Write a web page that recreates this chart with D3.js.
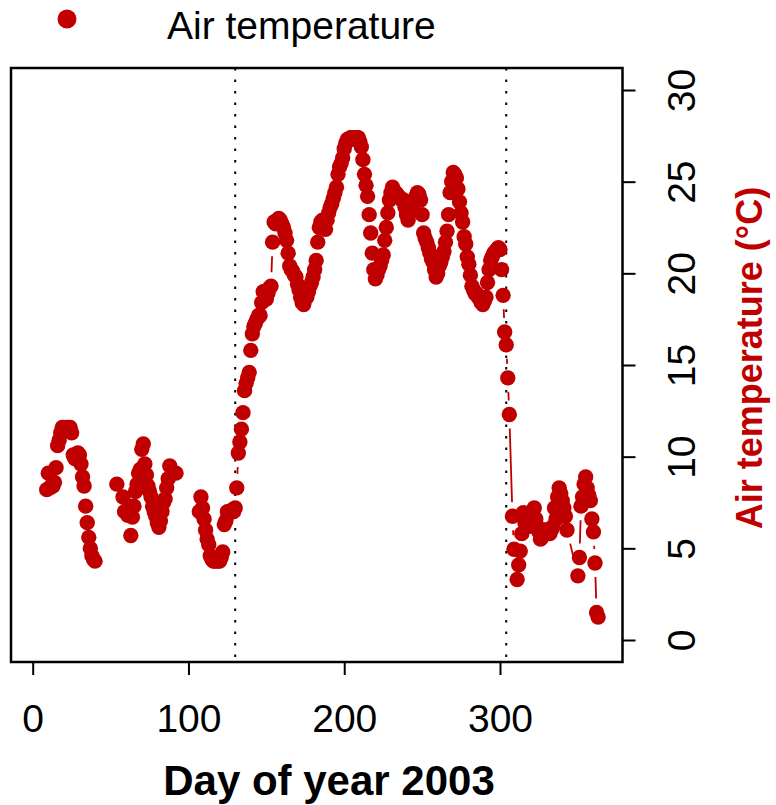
<!DOCTYPE html>
<html>
<head>
<meta charset="utf-8">
<script src="https://cdn.jsdelivr.net/npm/d3@7"></script>
<style>
  body { margin: 0; background: #fff; }
  svg { display: block; font-family: 'Liberation Sans', Arial, sans-serif; }
</style>
</head>
<body>
<div id="chart"></div>
<script>
// daily air temperature, null = no data (breaks the line)
const dayOfYear = [
  9, 10, 11, 12, 13, 14, 15, 16, 17, 18, 19, 20, 21, 22, 23, 24, 25, 26, 27, 28,
  29, 30, 31, 32, 33, 34, 35, 36, 37, 38, 39, 40, 41,
  54, 58, 59, 61, 62, 63, 64, 65, 66, 67, 68, 69, 70, 71, 72, 73, 74, 75, 76, 77,
  78, 79, 80, 81, 82, 83, 84, 85, 86, 87, 88, 92, 93,
  107, 108, 109, 110, 111, 112, 113, 114, 115, 116,
  117, 118, 119, 120, 121, 122, 123, 124, 125, 126,
  127, 128, 129, 130, 131, 132, 133, 134, 135, 136,
  137, 138, 139, 140, 141, 142, 143, 144, 145, 146,
  147, 148, 149, 150, 151, 152, 153, 154, 155, 156,
  157, 158, 159, 160, 161, 162, 163, 164, 165, 166,
  167, 168, 169, 170, 171, 172, 173, 174, 175, 176,
  177, 178, 179, 180, 181, 182, 183, 184, 185, 186,
  187, 188, 189, 190, 191, 192, 193, 194, 195, 196,
  197, 198, 199, 200, 201, 202, 203, 204, 205, 206,
  207, 208, 209, 210, 211, 212, 213, 214, 215, 216,
  217, 218, 219, 220, 221, 222, 223, 224, 225, 226,
  227, 228, 229, 230, 231, 232, 233, 234, 235, 236,
  237, 238, 239, 240, 241, 242, 243, 244, 245, 246,
  247, 248, 249, 250, 251, 252, 253, 254, 255, 256,
  257, 258, 259, 260, 261, 262, 263, 264, 265, 266,
  267, 268, 269, 270, 271, 272, 273, 274, 275, 276,
  277, 278, 279, 280, 281, 282, 283, 284, 285, 286,
  287, 288, 289, 290, 291, 292, 293, 294, 295, 296,
  297, 298, 299, 300, 301, 302, 303, 304, 305, 306,
  308, 309, 311, 312, 313, 314, 315, 316, 317, 318, 319, 320, 321, 322, 323, 324,
  325, 326, 327, 328, 329, 330, 331, 332, 333, 334, 335, 336, 337, 338, 339, 340,
  341, 342, 343, 350, 351, 352, 353, 354, 355, 356, 357, 358, 359, 360, 361, 362, 363
];
const airTemp = [
  8.2, 9.1, 8.3, 8.4, 8.4, 8.6, 9.4, 10.6, 10.9, 11.3, 11.6, 11.6, 11.5, 11.6, 11.6, 11.6, 11.3, 10.1, 9.9, 10.1,
  10.2, 10.1, 9.6, 8.9, 8.4, 7.3, 6.4, 5.6, 5.0, 4.6, 4.4, 4.3, null,
  8.5, 7.8, 7.0, 6.8, 7.3, 5.7, 6.7, 7.3, 8.1, 8.5, 9.1, 9.3, 10.4, 10.7, 9.6, 9.0, 8.4, 8.1, 7.8, 7.3,
  7.0, 6.75, 6.4, 6.15, 6.5, 7.0, 7.5, 7.7, 8.3, 8.8, 9.5, 9.1, null,
  7.0, 7.8, 7.2, 6.6, 6.0, 5.5, 5.2, 4.6, 4.4, 4.3,
  4.3, 4.4, 4.3, 4.3, 4.5, 4.8, 6.3, 6.5, 7.0, 6.9,
  7.0, 7.1, 7.0, 7.2, 8.3, 10.2, 10.8, 11.5, 12.4, 13.6,
  14.0, 14.3, 14.6, 15.8, 16.7, 17.1, 17.3, 17.5, 17.7, 17.7,
  18.4, 19.0, 19.0, 18.6, 18.9, 19.2, 19.3, 21.7, 22.8, 22.7,
  22.9, 23.0, 22.9, 22.7, 22.5, 22.2, 21.8, 21.1, 20.4, 20.2,
  20.1, 19.9, 19.8, 19.4, 19.1, 18.7, 18.4, 18.3, 18.6, 18.7,
  19.0, 19.3, 19.5, 19.8, 20.2, 20.7, 21.7, 22.5, 22.8, 22.9,
  22.6, 22.4, 22.9, 23.3, 23.6, 23.8, 24.1, 24.4, 24.7, 25.4,
  25.8, 26.0, 26.3, 26.8, 27.1, 27.3, 27.3, 27.4, 27.4, 27.4,
  27.3, 27.4, 27.4, 27.2, 26.9, 26.2, 25.4, 24.8, 24.2, 23.2,
  22.2, 21.1, 20.2, 19.7, 19.9, 20.2, 20.4, 20.7, 21.0, 21.8,
  22.5, 23.3, 24.0, 24.4, 24.7, 24.5, 24.4, 24.3, 24.2, 24.1,
  24.0, 24.0, 23.6, 23.2, 22.9, 23.3, 23.6, 23.8, 24.0, 24.2,
  24.4, 24.3, 24.0, 23.2, 22.2, 21.9, 21.7, 21.4, 21.1, 20.8,
  20.6, 20.2, 19.8, 20.0, 20.4, 20.6, 20.9, 21.2, 21.7, 22.3,
  23.2, 24.4, 25.0, 25.5, 25.4, 25.2, 24.6, 23.9, 23.3, 22.8,
  22.0, 21.6, 20.9, 20.5, 19.9, 19.3, 19.1, 18.9, 18.9, 18.7,
  18.6, 18.4, 18.3, 18.5, 18.7, 19.5, 20.2, 20.7, 20.9, 21.1,
  21.2, 21.3, 21.4, 21.3, 20.2, 18.8, 16.8, 16.1, 14.3, 12.3,
  6.75, 4.95, 3.3, 4.1, 4.85, 5.8, 6.95, 6.4, 6.6, 6.75, 6.2, 6.5, 6.9, 7.2, 6.6, 6.2,
  5.9, 5.5, 5.6, 5.8, 6.0, 6.0, 5.9, 5.8, 6.0, 6.2, 7.2, 6.6, 7.8, 8.3, 8.0, 7.6,
  7.2, 6.75, 6.0, 3.5, 4.5, 7.3, 7.8, 8.5, 8.9, 8.3, 7.9, 7.6, 6.6, 5.9, 4.2, 1.5, 1.25
];
const xTicks = [0, 100, 200, 300];
const yTicks = [0, 5, 10, 15, 20, 25, 30];
const markerDays = [130, 304];
const seriesName = 'Air temperature';
const xTitle = 'Day of year 2003';
const yTitle = 'Air temperature (°C)';

const width = 776;
const height = 805;
const red = '#c00000';
const plotLeft = 11, plotRight = 622.5, plotTop = 68, plotBottom = 662;

const svg = d3.select('#chart')
    .append('svg')
    .attr('width', width)
    .attr('height', height);

svg.append('rect')
    .attr('width', width)
    .attr('height', height)
    .attr('fill', '#fff');

const x = d3.scaleLinear()
    .domain([-13.93, 378.65])
    .range([plotLeft, plotRight]);

const y = d3.scaleLinear()
    .domain([-1.2, 31.2])
    .range([plotBottom, plotTop]);

// dotted markers
svg.selectAll('.marker')
    .data(markerDays)
    .enter()
    .append('line')
    .attr('x1', d => x(d))
    .attr('x2', d => x(d))
    .attr('y1', plotTop)
    .attr('y2', plotBottom)
    .attr('stroke', '#000')
    .attr('stroke-width', 2)
    .attr('stroke-dasharray', '2.5,9');

// points, R type = "b": line pieces with gaps around each point
const pts = dayOfYear.map((d, i) => ({ day: d, value: airTemp[i] }));
const gap = 14;
const segs = [];
for (let i = 1; i < pts.length; i++) {
    const a = pts[i - 1], b = pts[i];
    if (a.value == null || b.value == null) continue;
    const x1 = x(a.day), y1 = y(a.value), x2 = x(b.day), y2 = y(b.value);
    const len = Math.hypot(x2 - x1, y2 - y1);
    if (len <= 2 * gap) continue;
    const f = gap / len;
    segs.push([x1 + (x2 - x1) * f, y1 + (y2 - y1) * f, x2 - (x2 - x1) * f, y2 - (y2 - y1) * f]);
}

svg.selectAll('.seg')
    .data(segs)
    .enter()
    .append('line')
    .attr('x1', d => d[0])
    .attr('y1', d => d[1])
    .attr('x2', d => d[2])
    .attr('y2', d => d[3])
    .attr('stroke', red)
    .attr('stroke-width', 1.8);

svg.selectAll('.pt')
    .data(pts.filter(p => p.value != null))
    .enter()
    .append('circle')
    .attr('cx', d => x(d.day))
    .attr('cy', d => y(d.value))
    .attr('r', 7.7)
    .attr('fill', red);

// box
svg.append('rect')
    .attr('x', plotLeft)
    .attr('y', plotTop)
    .attr('width', plotRight - plotLeft)
    .attr('height', plotBottom - plotTop)
    .attr('fill', 'none')
    .attr('stroke', '#000')
    .attr('stroke-width', 2.5);

// bottom axis
const xAxis = svg.append('g')
    .attr('transform', `translate(0,${plotBottom})`)
    .call(d3.axisBottom(x).tickValues(xTicks).tickSize(13).tickFormat(d3.format('d')));
xAxis.attr('font-family', null).attr('font-size', 39);
xAxis.select('.domain').remove();
xAxis.selectAll('line').attr('stroke', '#000').attr('stroke-width', 2);
xAxis.selectAll('text')
    .attr('y', 70)
    .attr('dy', null)
    .attr('fill', '#000');

// right axis, labels turned like R
const yAxis = svg.append('g')
    .attr('transform', `translate(${plotRight},0)`)
    .call(d3.axisRight(y).tickValues(yTicks).tickSize(13));
yAxis.attr('font-family', null).attr('font-size', 39);
yAxis.select('.domain').remove();
yAxis.selectAll('line').attr('stroke', '#000').attr('stroke-width', 2);
yAxis.selectAll('text')
    .attr('x', null)
    .attr('dy', null)
    .attr('text-anchor', 'middle')
    .attr('fill', '#000')
    .attr('transform', 'translate(72.5,0) rotate(-90)');

// titles
svg.append('text')
    .attr('x', 329)
    .attr('y', 795)
    .attr('text-anchor', 'middle')
    .attr('font-size', 42)
    .attr('font-weight', 'bold')
    .attr('fill', '#000')
    .text(xTitle);

svg.append('text')
    .attr('transform', 'translate(761.5,358) rotate(-90)')
    .attr('text-anchor', 'middle')
    .attr('font-size', 36)
    .attr('font-weight', 'bold')
    .attr('fill', red)
    .text(yTitle);

// legend
svg.append('circle')
    .attr('cx', 67)
    .attr('cy', 19)
    .attr('r', 9.5)
    .attr('fill', red);

svg.append('text')
    .attr('x', 167)
    .attr('y', 39)
    .attr('font-size', 39)
    .attr('fill', '#000')
    .text(seriesName);
</script>
</body>
</html>
